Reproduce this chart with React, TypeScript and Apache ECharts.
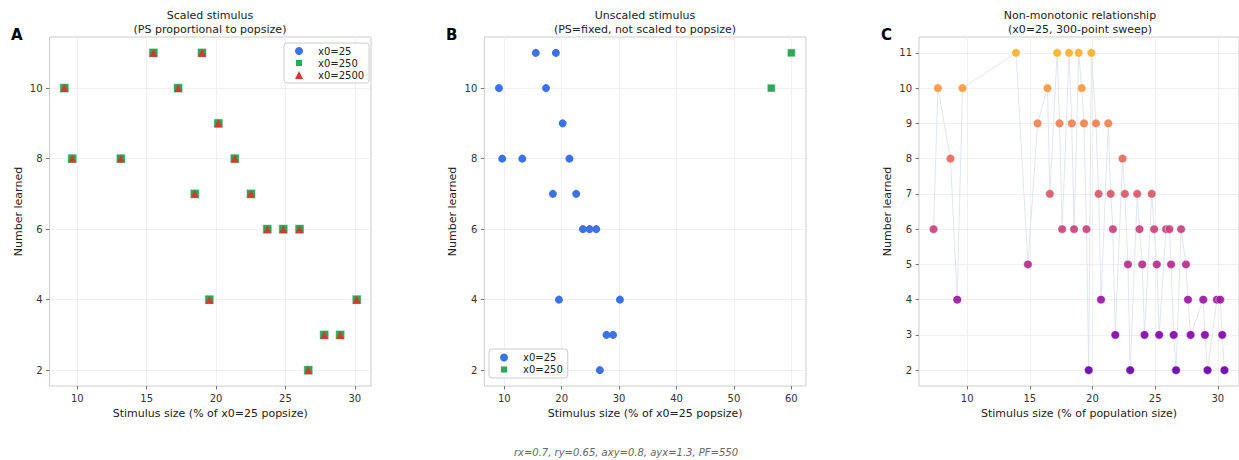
import React, { useEffect, useRef } from "react";
import * as echarts from "echarts";

// ---------- data ----------
const scaledX = [9.07, 9.64, 13.14, 15.49, 17.27, 18.47, 18.99, 19.52, 20.17, 21.35, 22.52, 23.7, 24.85, 26.02, 26.65, 27.8, 28.95, 30.14];
const scaledY = [10, 8, 8, 11, 10, 7, 11, 4, 9, 8, 7, 6, 6, 6, 2, 3, 3, 4];

const unscaled250X = [56.5, 60.0];
const unscaled250Y = [10, 11];

const sweepX = [7.32, 7.67, 8.67, 9.21, 9.63, 13.9, 14.85, 15.62, 16.41, 16.6, 17.18, 17.37, 17.58, 18.13, 18.35, 18.53, 18.9, 19.14, 19.32, 19.52, 19.7, 19.91, 20.28, 20.49, 20.68, 21.26, 21.45, 21.63, 21.82, 22.4, 22.58, 22.83, 23.01, 23.57, 23.75, 23.97, 24.15, 24.73, 24.92, 25.13, 25.32, 25.87, 26.14, 26.27, 26.48, 26.67, 27.07, 27.46, 27.62, 27.83, 28.84, 28.97, 29.18, 29.93, 30.19, 30.35, 30.53];
const sweepY = [6, 10, 8, 4, 10, 11, 5, 9, 10, 7, 11, 9, 6, 11, 9, 6, 11, 10, 9, 6, 2, 11, 9, 7, 4, 9, 7, 6, 3, 8, 7, 5, 2, 7, 6, 5, 3, 7, 6, 5, 3, 6, 6, 5, 3, 2, 6, 5, 4, 3, 4, 3, 2, 4, 4, 3, 2];

const ticksA = [10, 15, 20, 25, 30];
const ticksB = [10, 20, 30, 40, 50, 60];
const ticksC = [10, 15, 20, 25, 30];
const yTicksAB = [2, 4, 6, 8, 10];
const yTicksC = [2, 3, 4, 5, 6, 7, 8, 9, 10, 11];

const legendA = ["x0=25", "x0=250", "x0=2500"];
const legendB = ["x0=25", "x0=250"];

// plasma-like colours per "number learned" level
const levelColors: Record<number, string> = {
  2: "#6a00a8",
  3: "#8405a7",
  4: "#9c179e",
  5: "#b42e8d",
  6: "#c7427c",
  7: "#d8576b",
  8: "#e56b5d",
  9: "#f0804f",
  10: "#f99a3e",
  11: "#fdb130",
};

const FONT = "DejaVu Sans";
const BLUE = "#3b72e8";
const GREEN = "#2ca85a";
const RED = "#d33a2f";

const zip = (xs: number[], ys: number[]) => xs.map((x, i) => [x, ys[i]]);

function xAxis(grid: number, min: number, max: number, ticks: number[], name: string) {
  return {
    type: "value",
    gridIndex: grid,
    min,
    max,
    name,
    nameLocation: "middle",
    nameGap: 22,
    nameTextStyle: { fontFamily: FONT, fontSize: 11, color: "#222" },
    axisLine: { show: false },
    axisTick: { show: true, length: 3.5, customValues: ticks, lineStyle: { color: "#555", width: 0.8 } },
    axisLabel: { customValues: ticks, fontFamily: FONT, fontSize: 10, color: "#333", margin: 7 },
    splitLine: { show: true, lineStyle: { color: "#ececec", width: 0.8 } },
  };
}

function yAxis(grid: number, ticks: number[]) {
  return {
    type: "value",
    gridIndex: grid,
    min: 1.55,
    max: 11.45,
    name: "Number learned",
    nameLocation: "middle",
    nameGap: 26,
    nameTextStyle: { fontFamily: FONT, fontSize: 11, color: "#222" },
    axisLine: { show: false },
    axisTick: { show: true, length: 3.5, customValues: ticks, lineStyle: { color: "#555", width: 0.8 } },
    axisLabel: { customValues: ticks, fontFamily: FONT, fontSize: 10, color: "#333", margin: 7 },
    splitLine: { show: true, lineStyle: { color: "#ececec", width: 0.8 } },
  };
}

function legend(left: number, top: number, data: string[], padV: number) {
  return {
    orient: "vertical",
    left,
    top,
    data,
    itemWidth: 8,
    itemHeight: 8,
    itemGap: 2,
    padding: [padV, 5, padV, 10],
    borderColor: "#cccccc",
    borderWidth: 1,
    borderRadius: 3,
    backgroundColor: "rgba(255,255,255,0.85)",
    selectedMode: false,
    textStyle: { fontFamily: FONT, fontSize: 10, color: "#222", padding: [0, 0, 0, 10] },
  };
}

function title(left: number, text: string) {
  return {
    text,
    left,
    top: 8,
    textAlign: "center",
    padding: 0,
    textStyle: { fontFamily: FONT, fontSize: 11, fontWeight: "normal", color: "#222", lineHeight: 14 },
  };
}

export default function App() {
  const ref = useRef<HTMLDivElement>(null);
  useEffect(() => {
    if (!ref.current) return;
    const chart = echarts.init(ref.current, undefined, { renderer: "svg" });
    const sqBorder = { borderColor: "rgba(255,255,255,0.9)", borderWidth: 0.6 };
    const option = {
      animation: false,
      backgroundColor: "#ffffff",
      title: [
        title(210, "Scaled stimulus\n(PS proportional to popsize)"),
        title(645, "Unscaled stimulus\n(PS=fixed, not scaled to popsize)"),
        title(1080, "Non-monotonic relationship\n(x0=25, 300-point sweep)"),
      ],
      grid: [
        { left: 49.5, top: 37, width: 321.5, height: 349, show: true, borderColor: "#cccccc", borderWidth: 1, backgroundColor: "transparent" },
        { left: 484.3, top: 37, width: 321.7, height: 349, show: true, borderColor: "#cccccc", borderWidth: 1, backgroundColor: "transparent" },
        { left: 919, top: 37, width: 322, height: 349, show: true, borderColor: "#cccccc", borderWidth: 1, backgroundColor: "transparent" },
      ],
      xAxis: [
        xAxis(0, 8.0, 31.17, ticksA, "Stimulus size (% of x0=25 popsize)"),
        xAxis(1, 6.52, 62.55, ticksB, "Stimulus size (% of x0=25 popsize)"),
        xAxis(2, 6.16, 31.69, ticksC, "Stimulus size (% of population size)"),
      ],
      yAxis: [yAxis(0, yTicksAB), yAxis(1, yTicksAB), yAxis(2, yTicksC)],
      legend: [legend(284, 43, legendA, 3), legend(489, 349, legendB, 3.5)],
      series: [
        { name: legendA[0], type: "scatter", xAxisIndex: 0, yAxisIndex: 0, symbol: "circle", symbolSize: 8, itemStyle: { color: BLUE, opacity: 1 }, data: zip(scaledX, scaledY), z: 2 },
        { name: legendA[1], type: "scatter", xAxisIndex: 0, yAxisIndex: 0, symbol: "rect", symbolSize: 9, itemStyle: { color: GREEN, opacity: 1, ...sqBorder }, data: zip(scaledX, scaledY), z: 3 },
        { name: legendA[2], type: "scatter", xAxisIndex: 0, yAxisIndex: 0, symbol: "triangle", symbolSize: 8, itemStyle: { color: RED, opacity: 1 }, data: zip(scaledX, scaledY), z: 4 },
        { name: legendB[0], type: "scatter", xAxisIndex: 1, yAxisIndex: 1, symbol: "circle", symbolSize: 8, itemStyle: { color: BLUE, opacity: 1 }, data: zip(scaledX, scaledY), z: 2 },
        { name: legendB[1], type: "scatter", xAxisIndex: 1, yAxisIndex: 1, symbol: "rect", symbolSize: 8, itemStyle: { color: GREEN, opacity: 1, ...sqBorder }, data: zip(unscaled250X, unscaled250Y), z: 3 },
        { name: "sweepLine", type: "line", xAxisIndex: 2, yAxisIndex: 2, showSymbol: false, symbol: "none", lineStyle: { color: "#dde3ec", width: 0.9 }, data: zip(sweepX, sweepY), z: 1 },
        {
          name: "sweep",
          type: "scatter",
          xAxisIndex: 2,
          yAxisIndex: 2,
          symbol: "circle",
          symbolSize: 8.5,
          z: 3,
          data: sweepX.map((x, i) => ({
            value: [x, sweepY[i]],
            itemStyle: { color: levelColors[sweepY[i]], opacity: 0.92, borderColor: "#ffffff", borderWidth: 0.5 },
          })),
        },
      ],
      graphic: [
        { type: "text", x: 11, y: 35, style: { text: "A", fontFamily: FONT, fontSize: 15, fontWeight: "bold", fill: "#000", verticalAlign: "middle" } },
        { type: "text", x: 446, y: 35, style: { text: "B", fontFamily: FONT, fontSize: 15, fontWeight: "bold", fill: "#000", verticalAlign: "middle" } },
        { type: "text", x: 881, y: 35, style: { text: "C", fontFamily: FONT, fontSize: 15, fontWeight: "bold", fill: "#000", verticalAlign: "middle" } },
        { type: "text", x: 626, y: 452, style: { text: "rx=0.7, ry=0.65, axy=0.8, ayx=1.3, PF=550", fontFamily: FONT, fontSize: 10, fontStyle: "italic", fill: "#666", align: "center", verticalAlign: "middle" } },
      ],
    };
    chart.setOption(option as any);
    return () => chart.dispose();
  }, []);
  return <div ref={ref} style={{ position: "fixed", left: 0, top: 0, width: 1239, height: 460 }} />;
}
